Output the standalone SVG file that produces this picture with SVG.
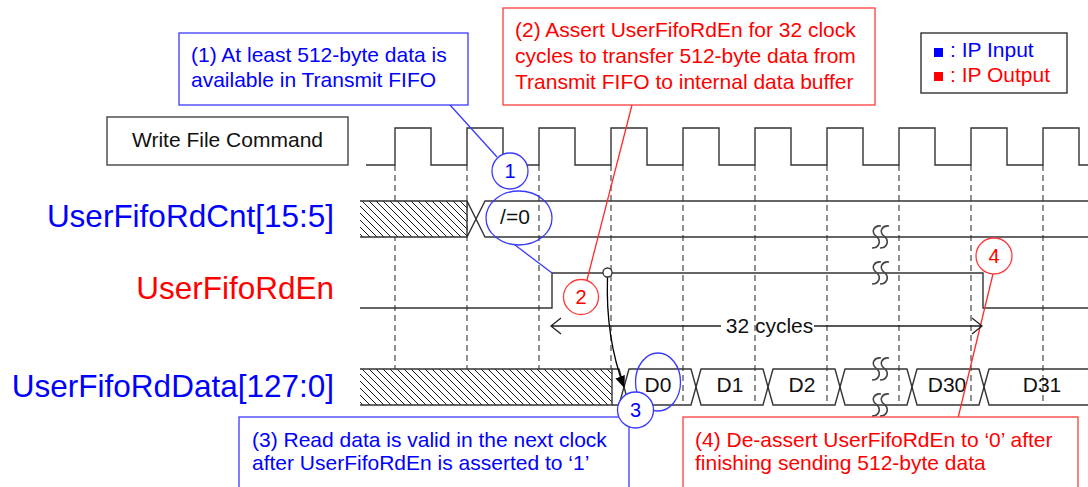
<svg xmlns="http://www.w3.org/2000/svg" xmlns:xlink="http://www.w3.org/1999/xlink" width="1088" height="487" viewBox="0 0 1088 487">
<style>
text{font-family:"Liberation Sans",Arial,sans-serif}
.sig{font-size:31.5px;text-anchor:end}
.t{font-size:21px}
.blue{fill:#0000ff}
.red{fill:#ff0000}
.blk{fill:#111}
.wave{fill:none;stroke:#333;stroke-width:1.4}
.grid{fill:none;stroke:#555;stroke-width:1.3;stroke-dasharray:6 4}
.bbox{fill:#fff;stroke:#3a3aff;stroke-width:1.3}
.rbox{fill:#fff;stroke:#ff3a3a;stroke-width:1.3}
.bl{fill:none;stroke:#3a3aff;stroke-width:1.3}
.rl{fill:none;stroke:#ff2a2a;stroke-width:1.3}
.bc{fill:#fff;stroke:#3a3aff;stroke-width:1.3}
.rc{fill:#fff;stroke:#ff3a3a;stroke-width:1.3}
.num{font-size:20px;text-anchor:middle}
.brk{fill:none;stroke:#444;stroke-width:1.6}
</style>
<defs>
<pattern id="hatch" patternUnits="userSpaceOnUse" width="7" height="7">
<rect width="7" height="7" fill="#fff"/>
<path d="M-1,-1 L8,8 M-1,6 L1,8 M6,-1 L8,1" stroke="#000" stroke-width="0.9"/>
</pattern>
<g id="brkmark">
<path class="brk" d="M4,-11 C-2,-12 -7,-6 -1,-1 C5,4 2,11 -5,11"/>
<path class="brk" d="M12,-11 C6,-12 1,-6 7,-1 C13,4 10,11 3,11"/>
</g>
<marker id="ah" markerWidth="12" markerHeight="10" refX="11" refY="5" orient="auto" markerUnits="userSpaceOnUse">
<path d="M0,0 L12,5 L0,10 Z" fill="#000"/>
</marker>
</defs>
<rect width="1088" height="487" fill="#fff"/>

<!-- grid dashed lines -->
<g id="gridlines" class="grid">
<path d="M395,165 V405 M467,165 V405 M539,165 V405 M611,165 V405 M683,165 V405 M755,165 V405 M827,165 V405 M899,165 V405 M971,165 V405 M1043,165 V405"/>
</g>

<!-- Write File Command clock -->
<g id="clock">
<rect x="107" y="117" width="241" height="48" fill="#fff" stroke="#444" stroke-width="1.4"/>
<text class="t blk" x="227.5" y="147" text-anchor="middle">Write File Command</text>
<path class="wave" d="M366,165 H395 V128 H431 V165 H467 V128 H503 V165 H539 V128 H575 V165 H611 V128 H647 V165 H683 V128 H719 V165 H755 V128 H791 V165 H827 V128 H863 V165 H899 V128 H935 V165 H971 V128 H1007 V165 H1043 V128 H1079 V165 H1088"/>
</g>

<!-- UserFifoRdCnt -->
<g id="cnt">
<text class="sig blue" x="334" y="227">UserFifoRdCnt[15:5]</text>
<rect x="360" y="201" width="107" height="36" fill="url(#hatch)"/>
<path class="wave" d="M360,201 H467 L485,237 H1088 M360,237 H467 L485,201 H1088 M467,201 V237"/>
<text class="t blk" x="515" y="224" text-anchor="middle">/=0</text>
<use xlink:href="#brkmark" x="877" y="237"/>
</g>

<!-- UserFifoRdEn -->
<g id="rden">
<text class="sig red" x="334" y="299">UserFifoRdEn</text>
<path class="wave" d="M360,308 H552 V273 H983 V308 H1088"/>
<use xlink:href="#brkmark" x="877" y="273"/>
</g>

<!-- UserFifoRdData -->
<g id="rddata">
<text class="sig blue" x="334" y="397">UserFifoRdData[127:0]</text>
<rect x="360" y="369" width="252" height="36" fill="url(#hatch)"/>
<path class="wave" d="M360,369 H612 V405 H360"/>
<path class="wave" d="M612,369 H619 L624,387 L619,405 H612"/>
<path class="wave" d="M624,387 L629,369 H691 L696,387 L691,405 H629 Z"/>
<path class="wave" d="M696,387 L701,369 H763 L768,387 L763,405 H701 Z"/>
<path class="wave" d="M768,387 L773,369 H835 L840,387 L835,405 H773 Z"/>
<path class="wave" d="M840,387 L845,369 H907 L912,387 L907,405 H845 Z"/>
<path class="wave" d="M912,387 L917,369 H979 L984,387 L979,405 H917 Z"/>
<path class="wave" d="M984,387 L989,369 H1088 M984,387 L989,405 H1088"/>
<text class="t blk" x="658" y="392" text-anchor="middle">D0</text>
<text class="t blk" x="730" y="392" text-anchor="middle">D1</text>
<text class="t blk" x="802" y="392" text-anchor="middle">D2</text>
<text class="t blk" x="947" y="392" text-anchor="middle">D30</text>
<text class="t blk" x="1042" y="392" text-anchor="middle">D31</text>
<use xlink:href="#brkmark" x="877" y="369"/>
<use xlink:href="#brkmark" x="877" y="405"/>
</g>

<!-- connectors -->
<g id="connectors">
<path class="bl" d="M450,105 L497,157"/>
<path class="bl" d="M515,245 L552,273"/>
<path class="rl" d="M632,105 L587,280"/>
<path class="rl" d="M993,274 L958,418"/>
<path class="bl" d="M629,417 V428"/>
<path fill="none" stroke="#000" stroke-width="1.3" d="M607.5,277 C606,320 612,355 624,387" marker-end="url(#ah)"/>
<circle cx="607.5" cy="272.5" r="4.5" fill="#fff" stroke="#333" stroke-width="1.3"/>
<path fill="none" stroke="#222" stroke-width="1.3" d="M551,326 H721 M814,326 H982 M561,318 L551,326 L561,334 M972,318 L982,326 L972,334"/>
<text class="t blk" x="769.5" y="333" text-anchor="middle">32 cycles</text>
</g>

<!-- callout 1 -->
<g id="callout1">
<rect class="bbox" x="179" y="33" width="289" height="72"/>
<text class="t blue" x="191" y="62">(1) At least 512-byte data is</text>
<text class="t blue" x="191" y="87">available in Transmit FIFO</text>
<circle class="bc" cx="510" cy="171" r="18"/>
<text class="num blue" x="510" y="178">1</text>
<ellipse cx="519" cy="218" rx="33" ry="27" fill="none" stroke="#3a3aff" stroke-width="1.3"/>
</g>

<!-- callout 2 -->
<g id="callout2">
<rect class="rbox" x="503" y="8" width="372" height="97"/>
<text class="t red" x="515" y="37">(2) Assert UserFifoRdEn for 32 clock</text>
<text class="t red" x="515" y="63">cycles to transfer 512-byte data from</text>
<text class="t red" x="515" y="89">Transmit FIFO to internal data buffer</text>
<circle class="rc" cx="581" cy="297" r="17.5"/>
<text class="num red" x="581" y="304">2</text>
</g>

<!-- callout 3 -->
<g id="callout3">
<rect class="bbox" x="239" y="417" width="390" height="80"/>
<text class="t blue" x="252" y="447">(3) Read data is valid in the next clock</text>
<text class="t blue" x="252" y="470">after UserFifoRdEn is asserted to ‘1’</text>
<ellipse cx="658" cy="382" rx="22.5" ry="29" fill="none" stroke="#3a3aff" stroke-width="1.3"/>
<circle class="bc" cx="635.5" cy="410" r="18"/>
<text class="num blue" x="635.5" y="417">3</text>
</g>

<!-- callout 4 -->
<g id="callout4">
<rect class="rbox" x="683" y="417" width="395" height="80"/>
<text class="t red" x="695" y="447">(4) De-assert UserFifoRdEn to ‘0’ after</text>
<text class="t red" x="695" y="470">finishing sending 512-byte data</text>
<circle class="rc" cx="994" cy="256" r="18"/>
<text class="num red" x="994" y="263">4</text>
</g>

<!-- legend -->
<g id="legend">
<rect x="921" y="33" width="146" height="60" fill="#fff" stroke="#222" stroke-width="1.3"/>
<rect x="934" y="48" width="9" height="9" fill="#0000ff"/>
<text class="t blue" x="950" y="57">: IP Input</text>
<rect x="934" y="72" width="9" height="9" fill="#ff0000"/>
<text class="t red" x="950" y="82">: IP Output</text>
</g>
</svg>
